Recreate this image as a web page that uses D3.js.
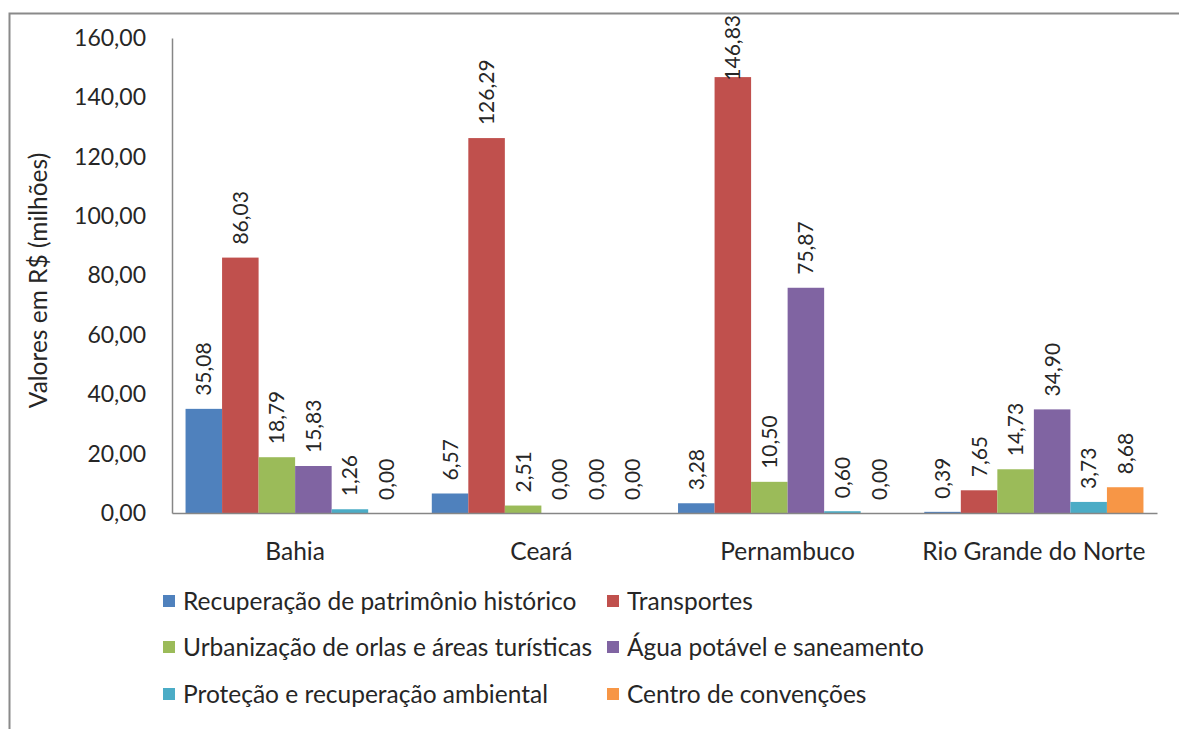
<!DOCTYPE html>
<html><head><meta charset="utf-8">
<script src="https://cdn.jsdelivr.net/npm/d3@7"></script>
<style>
html,body{margin:0;padding:0;background:#fff;}
svg{display:block;font-family:Lato,"Open Sans",sans-serif;}
</style></head>
<body>
<svg id="chart" width="1179" height="729"></svg>
<script>
const categories = ["Bahia", "Ceará", "Pernambuco", "Rio Grande do Norte"];
const seriesNames = [
  "Recuperação de patrimônio histórico",
  "Transportes",
  "Urbanização de orlas e áreas turísticas",
  "Água potável e saneamento",
  "Proteção e recuperação ambiental",
  "Centro de convenções"
];
const recuperacao = [35.08, 6.57, 3.28, 0.39];
const transportes = [86.03, 126.29, 146.83, 7.65];
const urbanizacao = [18.79, 2.51, 10.50, 14.73];
const agua = [15.83, 0.00, 75.87, 34.90];
const protecao = [1.26, 0.00, 0.60, 3.73];
const centro = [0.00, 0.00, 0.00, 8.68];
const yTicks = [0, 20, 40, 60, 80, 100, 120, 140, 160];
const yTitle = "Valores em R$ (milhões)";

const seriesValues = [recuperacao, transportes, urbanizacao, agua, protecao, centro];
const colors = ["#4F81BD", "#C0504D", "#9BBB59", "#8064A2", "#4BACC6", "#F79646"];

const loc = d3.formatLocale({decimal: ",", thousands: ".", grouping: [3], currency: ["R$", ""]});
const fmt = loc.format(".2f");

const svg = d3.select("#chart");
const textColor = "#262626";
const axisColor = "#868686";

// frame
svg.append("path").attr("d", "M9.5,729 L9.5,13.5 L1179,13.5")
  .attr("fill", "none").attr("stroke", "#8a8a8a").attr("stroke-width", 2);

const plot = {left: 172, right: 1157, top: 38, bottom: 513};
const labelTopLimit = 15;

const y = d3.scaleLinear().domain([0, 160]).range([plot.bottom, plot.top]);
const x0 = d3.scaleBand().domain(categories).range([plot.left, plot.right]).paddingInner(0.11).paddingOuter(0.055);
const x1 = d3.scaleBand().domain(d3.range(seriesNames.length)).range([0, x0.bandwidth()]);

// bars
const g = svg.append("g");
categories.forEach((c, ci) => {
  seriesValues.forEach((vals, si) => {
    const v = vals[ci];
    const bx = x0(c) + x1(si);
    g.append("rect")
      .attr("x", bx).attr("width", x1.bandwidth())
      .attr("y", y(v)).attr("height", y(0) - y(v))
      .attr("fill", colors[si]);
  });
});
// labels (drawn after bars so they stay on top)
categories.forEach((c, ci) => {
  seriesValues.forEach((vals, si) => {
    const v = vals[ci];
    const bx = x0(c) + x1(si);
    const lx = bx + x1.bandwidth() / 2;
    const t = g.append("text")
      .attr("dy", "0.36em")
      .attr("text-anchor", "start")
      .attr("font-size", 21)
      .attr("fill", textColor)
      .text(fmt(v));
    const len = t.node().getComputedTextLength();
    const ly = Math.max(y(v) - 13, labelTopLimit + len);
    t.attr("transform", `translate(${lx},${ly}) rotate(-90)`);
  });
});

// y axis
const yAxis = d3.axisLeft(y).tickValues(yTicks).tickFormat(fmt).tickSize(0).tickPadding(26);
const ya = svg.append("g").attr("transform", `translate(${plot.left},0)`).call(yAxis);
ya.select(".domain").attr("stroke", axisColor).attr("stroke-width", 1.5);
ya.selectAll("text").attr("font-size", 23).attr("fill", textColor).attr("font-family", "Lato");

// x axis
const xAxis = d3.axisBottom(x0).tickSize(0).tickPadding(30);
const xa = svg.append("g").attr("transform", `translate(0,${plot.bottom})`).call(xAxis);
xa.select(".domain").attr("stroke", axisColor).attr("stroke-width", 1.5);
xa.selectAll("text").attr("font-size", 24.5).attr("fill", textColor).attr("font-family", "Lato");

// y title
svg.append("text")
  .attr("transform", `translate(38,${(plot.top + plot.bottom) / 2 + 5}) rotate(-90)`)
  .attr("text-anchor", "middle").attr("dy", "0.36em")
  .attr("font-size", 24.5).attr("fill", textColor)
  .text(yTitle);

// legend
const legendCols = [163, 607];
const legendRows = [601, 647, 694];
seriesNames.forEach((name, i) => {
  const lx = legendCols[i % 2];
  const ly = legendRows[Math.floor(i / 2)];
  svg.append("rect").attr("x", lx).attr("y", ly - 6).attr("width", 12).attr("height", 12).attr("fill", colors[i]);
  svg.append("text").attr("x", lx + 20).attr("y", ly).attr("dy", "0.36em")
    .attr("font-size", 24.5).attr("fill", textColor).text(name);
});
</script>
</body></html>
